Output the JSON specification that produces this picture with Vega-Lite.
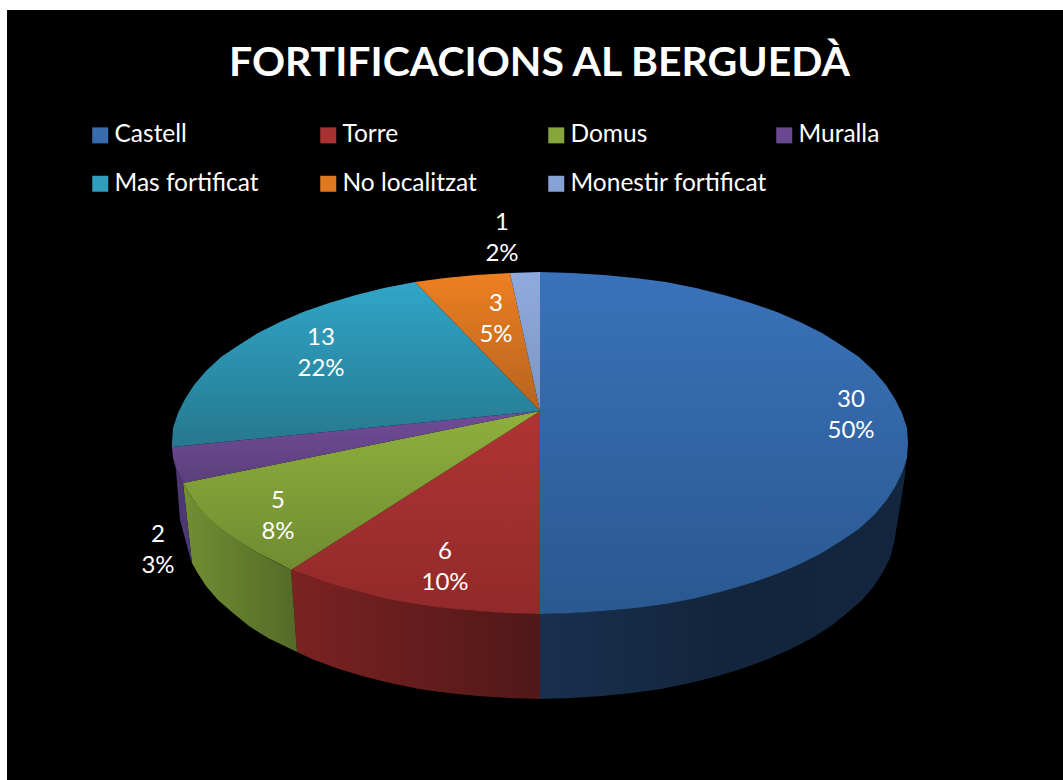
{"$schema":"https://vega.github.io/schema/vega-lite/v6.json","width":1063,"height":780,"autosize":"none","padding":0,"background":"white","config":{"view":{"stroke":null}},
"title":{"text":"FORTIFICACIONS AL BERGUEDÀ","anchor":"middle","dx":8,"offset":-117,"fontSize":41,"fontWeight":"bold","font":"Lato","color":"white","baseline":"alphabetic"},
"datasets":{
"outline":[
{"slice":"Castell","face":"top","seq":1,"x":540,"y":411},{"slice":"Castell","face":"top","seq":2,"x":540,"y":272},{"slice":"Castell","face":"top","seq":3,"x":572,"y":273},{"slice":"Castell","face":"top","seq":4,"x":604,"y":275},{"slice":"Castell","face":"top","seq":5,"x":635,"y":278},{"slice":"Castell","face":"top","seq":6,"x":666,"y":282},{"slice":"Castell","face":"top","seq":7,"x":696,"y":288},{"slice":"Castell","face":"top","seq":8,"x":724,"y":295},{"slice":"Castell","face":"top","seq":9,"x":751,"y":303},{"slice":"Castell","face":"top","seq":10,"x":777,"y":312},{"slice":"Castell","face":"top","seq":11,"x":800,"y":322},{"slice":"Castell","face":"top","seq":12,"x":822,"y":333},{"slice":"Castell","face":"top","seq":13,"x":841,"y":345},{"slice":"Castell","face":"top","seq":14,"x":859,"y":357},{"slice":"Castell","face":"top","seq":15,"x":874,"y":371},{"slice":"Castell","face":"top","seq":16,"x":886,"y":385},{"slice":"Castell","face":"top","seq":17,"x":895,"y":399},{"slice":"Castell","face":"top","seq":18,"x":902,"y":413},{"slice":"Castell","face":"top","seq":19,"x":907,"y":428},{"slice":"Castell","face":"top","seq":20,"x":908,"y":443},{"slice":"Castell","face":"top","seq":21,"x":907,"y":458},{"slice":"Castell","face":"top","seq":22,"x":902,"y":473},{"slice":"Castell","face":"top","seq":23,"x":895,"y":487},{"slice":"Castell","face":"top","seq":24,"x":886,"y":501},{"slice":"Castell","face":"top","seq":25,"x":874,"y":515},{"slice":"Castell","face":"top","seq":26,"x":859,"y":529},{"slice":"Castell","face":"top","seq":27,"x":841,"y":541},{"slice":"Castell","face":"top","seq":28,"x":822,"y":553},{"slice":"Castell","face":"top","seq":29,"x":800,"y":564},{"slice":"Castell","face":"top","seq":30,"x":777,"y":574},{"slice":"Castell","face":"top","seq":31,"x":751,"y":583},{"slice":"Castell","face":"top","seq":32,"x":724,"y":591},{"slice":"Castell","face":"top","seq":33,"x":696,"y":598},{"slice":"Castell","face":"top","seq":34,"x":666,"y":604},{"slice":"Castell","face":"top","seq":35,"x":635,"y":608},{"slice":"Castell","face":"top","seq":36,"x":604,"y":611},{"slice":"Castell","face":"top","seq":37,"x":572,"y":613},{"slice":"Castell","face":"top","seq":38,"x":540,"y":614},
{"slice":"Torre","face":"top","seq":1,"x":540,"y":411},{"slice":"Torre","face":"top","seq":2,"x":540,"y":614},{"slice":"Torre","face":"top","seq":3,"x":508,"y":613},{"slice":"Torre","face":"top","seq":4,"x":476,"y":611},{"slice":"Torre","face":"top","seq":5,"x":445,"y":608},{"slice":"Torre","face":"top","seq":6,"x":414,"y":604},{"slice":"Torre","face":"top","seq":7,"x":384,"y":598},{"slice":"Torre","face":"top","seq":8,"x":356,"y":591},{"slice":"Torre","face":"top","seq":9,"x":329,"y":583},{"slice":"Torre","face":"top","seq":10,"x":303,"y":574},{"slice":"Torre","face":"top","seq":11,"x":291,"y":570},
{"slice":"Domus","face":"top","seq":1,"x":540,"y":411},{"slice":"Domus","face":"top","seq":2,"x":291,"y":570},{"slice":"Domus","face":"top","seq":3,"x":280,"y":564},{"slice":"Domus","face":"top","seq":4,"x":258,"y":553},{"slice":"Domus","face":"top","seq":5,"x":239,"y":541},{"slice":"Domus","face":"top","seq":6,"x":221,"y":529},{"slice":"Domus","face":"top","seq":7,"x":206,"y":515},{"slice":"Domus","face":"top","seq":8,"x":194,"y":501},{"slice":"Domus","face":"top","seq":9,"x":183,"y":483},
{"slice":"Muralla","face":"top","seq":1,"x":540,"y":411},{"slice":"Muralla","face":"top","seq":2,"x":183,"y":483},{"slice":"Muralla","face":"top","seq":3,"x":176,"y":468},{"slice":"Muralla","face":"top","seq":4,"x":173,"y":458},{"slice":"Muralla","face":"top","seq":5,"x":172,"y":447},
{"slice":"Mas fortificat","face":"top","seq":1,"x":540,"y":411},{"slice":"Mas fortificat","face":"top","seq":2,"x":172,"y":447},{"slice":"Mas fortificat","face":"top","seq":3,"x":172,"y":443},{"slice":"Mas fortificat","face":"top","seq":4,"x":173,"y":428},{"slice":"Mas fortificat","face":"top","seq":5,"x":178,"y":413},{"slice":"Mas fortificat","face":"top","seq":6,"x":185,"y":399},{"slice":"Mas fortificat","face":"top","seq":7,"x":194,"y":385},{"slice":"Mas fortificat","face":"top","seq":8,"x":206,"y":371},{"slice":"Mas fortificat","face":"top","seq":9,"x":221,"y":357},{"slice":"Mas fortificat","face":"top","seq":10,"x":239,"y":345},{"slice":"Mas fortificat","face":"top","seq":11,"x":258,"y":333},{"slice":"Mas fortificat","face":"top","seq":12,"x":280,"y":322},{"slice":"Mas fortificat","face":"top","seq":13,"x":303,"y":312},{"slice":"Mas fortificat","face":"top","seq":14,"x":329,"y":303},{"slice":"Mas fortificat","face":"top","seq":15,"x":356,"y":295},{"slice":"Mas fortificat","face":"top","seq":16,"x":384,"y":288},{"slice":"Mas fortificat","face":"top","seq":17,"x":415,"y":282},
{"slice":"No localitzat","face":"top","seq":1,"x":540,"y":411},{"slice":"No localitzat","face":"top","seq":2,"x":415,"y":282},{"slice":"No localitzat","face":"top","seq":3,"x":445,"y":278},{"slice":"No localitzat","face":"top","seq":4,"x":476,"y":275},{"slice":"No localitzat","face":"top","seq":5,"x":510,"y":273},
{"slice":"Monestir fortificat","face":"top","seq":1,"x":540,"y":411},{"slice":"Monestir fortificat","face":"top","seq":2,"x":510,"y":273},{"slice":"Monestir fortificat","face":"top","seq":3,"x":540,"y":272},
{"slice":"Castell","face":"side","seq":1,"x":540,"y":614},{"slice":"Castell","face":"side","seq":2,"x":604,"y":611},{"slice":"Castell","face":"side","seq":3,"x":666,"y":604},{"slice":"Castell","face":"side","seq":4,"x":724,"y":591},{"slice":"Castell","face":"side","seq":5,"x":777,"y":574},{"slice":"Castell","face":"side","seq":6,"x":822,"y":553},{"slice":"Castell","face":"side","seq":7,"x":859,"y":529},{"slice":"Castell","face":"side","seq":8,"x":886,"y":501},{"slice":"Castell","face":"side","seq":9,"x":902,"y":473},{"slice":"Castell","face":"side","seq":10,"x":907,"y":445},{"slice":"Castell","face":"side","seq":11,"x":905,"y":475},{"slice":"Castell","face":"side","seq":12,"x":900,"y":507},{"slice":"Castell","face":"side","seq":13,"x":894,"y":543},{"slice":"Castell","face":"side","seq":14,"x":890,"y":558},{"slice":"Castell","face":"side","seq":15,"x":883,"y":572},{"slice":"Castell","face":"side","seq":16,"x":874,"y":586},{"slice":"Castell","face":"side","seq":17,"x":862,"y":600},{"slice":"Castell","face":"side","seq":18,"x":847,"y":613},{"slice":"Castell","face":"side","seq":19,"x":831,"y":626},{"slice":"Castell","face":"side","seq":20,"x":812,"y":638},{"slice":"Castell","face":"side","seq":21,"x":791,"y":649},{"slice":"Castell","face":"side","seq":22,"x":768,"y":659},{"slice":"Castell","face":"side","seq":23,"x":744,"y":668},{"slice":"Castell","face":"side","seq":24,"x":718,"y":676},{"slice":"Castell","face":"side","seq":25,"x":690,"y":683},{"slice":"Castell","face":"side","seq":26,"x":661,"y":689},{"slice":"Castell","face":"side","seq":27,"x":632,"y":693},{"slice":"Castell","face":"side","seq":28,"x":602,"y":696},{"slice":"Castell","face":"side","seq":29,"x":571,"y":698},{"slice":"Castell","face":"side","seq":30,"x":540,"y":699},
{"slice":"Torre","face":"side","seq":1,"x":540,"y":614},{"slice":"Torre","face":"side","seq":2,"x":476,"y":611},{"slice":"Torre","face":"side","seq":3,"x":414,"y":604},{"slice":"Torre","face":"side","seq":4,"x":356,"y":591},{"slice":"Torre","face":"side","seq":5,"x":303,"y":574},{"slice":"Torre","face":"side","seq":6,"x":291,"y":570},{"slice":"Torre","face":"side","seq":7,"x":297,"y":652},{"slice":"Torre","face":"side","seq":8,"x":312,"y":659},{"slice":"Torre","face":"side","seq":9,"x":336,"y":668},{"slice":"Torre","face":"side","seq":10,"x":362,"y":676},{"slice":"Torre","face":"side","seq":11,"x":390,"y":683},{"slice":"Torre","face":"side","seq":12,"x":419,"y":689},{"slice":"Torre","face":"side","seq":13,"x":448,"y":693},{"slice":"Torre","face":"side","seq":14,"x":478,"y":696},{"slice":"Torre","face":"side","seq":15,"x":509,"y":698},{"slice":"Torre","face":"side","seq":16,"x":540,"y":699},
{"slice":"Domus","face":"side","seq":1,"x":291,"y":570},{"slice":"Domus","face":"side","seq":2,"x":258,"y":553},{"slice":"Domus","face":"side","seq":3,"x":221,"y":529},{"slice":"Domus","face":"side","seq":4,"x":194,"y":501},{"slice":"Domus","face":"side","seq":5,"x":183,"y":483},{"slice":"Domus","face":"side","seq":6,"x":192,"y":563},{"slice":"Domus","face":"side","seq":7,"x":197,"y":572},{"slice":"Domus","face":"side","seq":8,"x":206,"y":586},{"slice":"Domus","face":"side","seq":9,"x":218,"y":600},{"slice":"Domus","face":"side","seq":10,"x":233,"y":613},{"slice":"Domus","face":"side","seq":11,"x":249,"y":626},{"slice":"Domus","face":"side","seq":12,"x":268,"y":638},{"slice":"Domus","face":"side","seq":13,"x":297,"y":652},
{"slice":"Muralla","face":"side","seq":1,"x":183,"y":483},{"slice":"Muralla","face":"side","seq":2,"x":176,"y":468},{"slice":"Muralla","face":"side","seq":3,"x":173,"y":450},{"slice":"Muralla","face":"side","seq":4,"x":176,"y":470},{"slice":"Muralla","face":"side","seq":5,"x":180,"y":520},{"slice":"Muralla","face":"side","seq":6,"x":190,"y":557},{"slice":"Muralla","face":"side","seq":7,"x":192,"y":563}
],
"categories":[
{"slice":"Castell","value":30,"percent":"50%","x":851,"y":415},{"slice":"Torre","value":6,"percent":"10%","x":445,"y":567},{"slice":"Domus","value":5,"percent":"8%","x":278,"y":516},{"slice":"Muralla","value":2,"percent":"3%","x":158,"y":550},{"slice":"Mas fortificat","value":13,"percent":"22%","x":321,"y":353},{"slice":"No localitzat","value":3,"percent":"5%","x":496,"y":319},{"slice":"Monestir fortificat","value":1,"percent":"2%","x":502,"y":238}
]},
"data":{"name":"outline"},
"encoding":{"x":{"field":"x","type":"quantitative","scale":{"domain":[0,1063]},"axis":null},"y":{"field":"y","type":"quantitative","scale":{"domain":[0,780],"reverse":true},"axis":null},"order":{"field":"seq"}},
"layer":[
{"data":{"values":[{"x":7,"x2":1063,"y":10,"y2":780}]},"mark":{"type":"rect","color":"black"},"encoding":{"x2":{"field":"x2"},"y2":{"field":"y2"},"order":null}},
{"transform":[{"filter":"datum.face==='side' && datum.slice==='Castell'"}],"mark":{"type":"line","strokeWidth":0,"fill":{"gradient":"linear","x1":0,"y1":0,"x2":1,"y2":0,"stops":[{"offset":0,"color":"#18304e"},{"offset":0.5,"color":"#13253c"},{"offset":1,"color":"#14263f"}]}}},
{"transform":[{"filter":"datum.face==='side' && datum.slice==='Torre'"}],"mark":{"type":"line","strokeWidth":0,"fill":{"gradient":"linear","x1":0,"y1":0,"x2":1,"y2":0,"stops":[{"offset":0,"color":"#7c2222"},{"offset":1,"color":"#501818"}]}}},
{"transform":[{"filter":"datum.face==='side' && datum.slice==='Domus'"}],"mark":{"type":"line","strokeWidth":0,"fill":{"gradient":"linear","x1":0,"y1":0,"x2":1,"y2":0,"stops":[{"offset":0,"color":"#728f33"},{"offset":1,"color":"#536a27"}]}}},
{"transform":[{"filter":"datum.face==='side' && datum.slice==='Muralla'"}],"mark":{"type":"line","strokeWidth":0,"fill":"#4d3774"}},
{"transform":[{"filter":"datum.face==='top' && datum.slice==='Castell'"}],"mark":{"type":"line","strokeWidth":0,"fill":{"gradient":"linear","x1":0,"y1":0,"x2":0,"y2":1,"stops":[{"offset":0,"color":"#3a72ba"},{"offset":1,"color":"#2a5890"}]}}},
{"transform":[{"filter":"datum.face==='top' && datum.slice==='Torre'"}],"mark":{"type":"line","strokeWidth":0,"fill":{"gradient":"linear","x1":0,"y1":0,"x2":0,"y2":1,"stops":[{"offset":0,"color":"#b03434"},{"offset":1,"color":"#92292a"}]}}},
{"transform":[{"filter":"datum.face==='top' && datum.slice==='Domus'"}],"mark":{"type":"line","strokeWidth":0,"fill":{"gradient":"linear","x1":0,"y1":0,"x2":0,"y2":1,"stops":[{"offset":0,"color":"#8fb03e"},{"offset":1,"color":"#6f8c31"}]}}},
{"transform":[{"filter":"datum.face==='top' && datum.slice==='Muralla'"}],"mark":{"type":"line","strokeWidth":0,"fill":{"gradient":"linear","x1":0,"y1":0,"x2":0,"y2":1,"stops":[{"offset":0,"color":"#724c98"},{"offset":1,"color":"#5c3f7c"}]}}},
{"transform":[{"filter":"datum.face==='top' && datum.slice==='Mas fortificat'"}],"mark":{"type":"line","strokeWidth":0,"fill":{"gradient":"linear","x1":0,"y1":0,"x2":0,"y2":1,"stops":[{"offset":0,"color":"#30a6c8"},{"offset":1,"color":"#26788e"}]}}},
{"transform":[{"filter":"datum.face==='top' && datum.slice==='No localitzat'"}],"mark":{"type":"line","strokeWidth":0,"fill":{"gradient":"linear","x1":0,"y1":0,"x2":0,"y2":1,"stops":[{"offset":0,"color":"#ee7f22"},{"offset":1,"color":"#b5631e"}]}}},
{"transform":[{"filter":"datum.face==='top' && datum.slice==='Monestir fortificat'"}],"mark":{"type":"line","strokeWidth":0,"fill":{"gradient":"linear","x1":0,"y1":0,"x2":0,"y2":1,"stops":[{"offset":0,"color":"#90aade"},{"offset":1,"color":"#7a96c2"}]}}},
{"data":{"name":"categories"},"mark":{"type":"square","opacity":0,"size":256},"encoding":{"order":null,"color":{"field":"slice","type":"nominal","title":null,"scale":{"domain":["Castell","Torre","Domus","Muralla","Mas fortificat","No localitzat","Monestir fortificat"],"range":["#386cae","#a83232","#84a63a","#6a4890","#2f9dbc","#e0781f","#87a3d6"]},"legend":{"orient":"none","direction":"horizontal","legendX":88,"legendY":123,"columns":4,"gridAlign":"all","columnPadding":5,"rowPadding":23.5,"symbolType":"square","symbolSize":256,"symbolOpacity":1,"symbolStrokeWidth":0,"labelFont":"Lato","labelFontSize":24.5,"labelColor":"white","labelOffset":2,"labelLimit":300}}}},
{"data":{"name":"categories"},"mark":{"type":"text","color":"white","font":"Lato","fontSize":24,"dy":-15.5},"encoding":{"order":null,"text":{"field":"value","type":"quantitative"}}},
{"data":{"name":"categories"},"mark":{"type":"text","color":"white","font":"Lato","fontSize":24,"dy":15.5},"encoding":{"order":null,"text":{"field":"percent","type":"nominal"}}}
]}
